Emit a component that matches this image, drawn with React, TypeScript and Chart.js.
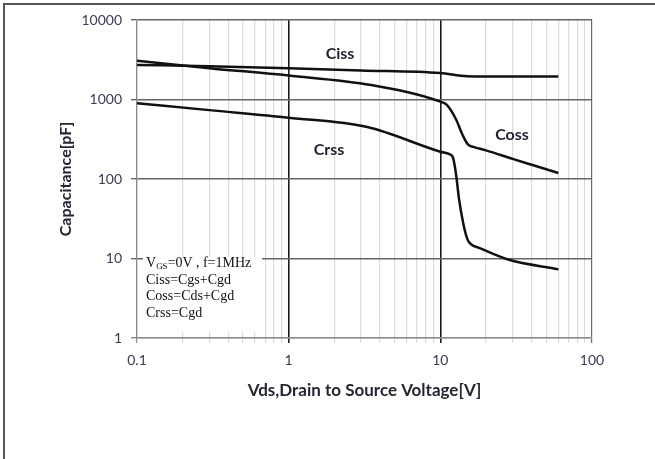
import React, { useEffect, useRef } from "react";
import { Chart, registerables } from "chart.js";

Chart.register(...registerables);

// ---- data ----
const cissV = [0.1, 0.3, 1, 3, 10, 15, 20, 60];
const cissPF = [2720, 2620, 2470, 2320, 2150, 1960, 1950, 1950];

const cossV = [0.1, 0.3, 1, 3.5, 10, 11, 12.7, 14, 15.2, 16.5, 20, 30, 40, 60];
const cossPF = [3080, 2480, 2000, 1520, 940, 860, 560, 360, 272, 254, 229, 179, 151, 119];

const crssV = [0.1, 0.3, 1, 3.3, 10, 11.5, 12.1, 12.7, 13.3, 14.2, 15.1, 16, 18, 28, 60];
const crssPF = [900, 735, 590, 450, 220, 205, 188, 114, 55, 27, 17.4, 15, 13.6, 9.7, 7.3];

const xTickValues = [
  0.1, 0.2, 0.3, 0.4, 0.5, 0.6, 0.7, 0.8, 0.9,
  1, 2, 3, 4, 5, 6, 7, 8, 9,
  10, 20, 30, 40, 50, 60, 70, 80, 90, 100,
];
const xLabelValues = [0.1, 1, 10, 100];
const yTickValues = [1, 10, 100, 1000, 10000];

const xTitle = "Vds,Drain to Source Voltage[V]";
const yTitle = "Capacitance[pF]";

const curveColor = "#111111";
const tickColor = "#3c3a58";

function toPoints(xs: number[], ys: number[]) {
  return xs.map((x, i) => ({ x, y: ys[i] }));
}

export default function App() {
  const ref = useRef<HTMLCanvasElement | null>(null);

  useEffect(() => {
    if (!ref.current) return;
    const ds = (label: string, xs: number[], ys: number[]) => ({
      label,
      data: toPoints(xs, ys),
      borderColor: curveColor,
      borderWidth: 2.5,
      pointRadius: 0,
      fill: false,
      cubicInterpolationMode: "monotone" as const,
    });
    const chart = new Chart(ref.current, {
      type: "line",
      data: {
        datasets: [
          ds("Ciss", cissV, cissPF),
          ds("Coss", cossV, cossPF),
          ds("Crss", crssV, crssPF),
        ],
      },
      options: {
        animation: false,
        responsive: true,
        maintainAspectRatio: false,
        layout: { padding: { top: 20, right: 63, left: 0, bottom: 0 } },
        plugins: { legend: { display: false }, tooltip: { enabled: false } },
        scales: {
          x: {
            type: "logarithmic",
            min: 0.1,
            max: 100,
            afterBuildTicks: (s: any) => {
              s.ticks = xTickValues.map((v) => ({ value: v }));
            },
            afterFit: (s: any) => {
              s.height = 121;
            },
            ticks: {
              autoSkip: false,
              maxRotation: 0,
              padding: 9,
              color: tickColor,
              font: { family: "Lato", size: 14 },
              callback: (v: any) =>
                xLabelValues.includes(Number(v)) ? String(v) : "",
            },
            grid: {
              tickLength: 5,
              color: (c: any) => {
                const v = c.tick?.value;
                if (v === 1 || v === 10) return "#1c1c1c";
                if (v === 100) return "#6a6a6a";
                if (v === 0.1) return "#8a8a8a";
                return "#dcdcdc";
              },
              lineWidth: (c: any) => {
                const v = c.tick?.value;
                return v === 1 || v === 10 ? 1.6 : 1.2;
              },
            },
            border: { color: "#8a8a8a", width: 1.2 },
            title: {
              display: true,
              text: xTitle,
              color: "#252535",
              font: { family: "Lato", size: 17, weight: "bold" },
              padding: { top: 0, bottom: 58 },
            },
          },
          y: {
            type: "logarithmic",
            min: 1,
            max: 10000,
            afterBuildTicks: (s: any) => {
              s.ticks = yTickValues.map((v) => ({ value: v }));
            },
            afterFit: (s: any) => {
              s.width = 137;
            },
            ticks: {
              autoSkip: false,
              padding: 9,
              color: tickColor,
              font: { family: "Lato", size: 14 },
              callback: (v: any) => String(v),
            },
            grid: {
              tickLength: 6,
              color: (c: any) => (c.tick?.value === 1 ? "#8a8a8a" : "#666666"),
              lineWidth: 1.4,
            },
            border: { color: "#8a8a8a", width: 1.2 },
            title: {
              display: true,
              text: yTitle,
              color: "#252535",
              font: { family: "Lato", size: 16, weight: "bold" },
              padding: { top: 56, bottom: 0 },
            },
          },
        },
      },
    });
    return () => chart.destroy();
  }, []);

  const seriesLabel: React.CSSProperties = {
    position: "absolute",
    font: 'bold 16px "Lato"',
    color: "#1e2233",
    transform: "translate(-50%, -50%)",
    whiteSpace: "nowrap",
  };

  return (
    <div
      style={{
        position: "fixed",
        left: 0,
        top: 0,
        width: 655,
        height: 459,
        background: "#fff",
        overflow: "hidden",
      }}
    >
      <div style={{ position: "absolute", left: 0, top: 0, width: 655, height: 459 }}>
        <canvas ref={ref} />
      </div>
      <div
        style={{
          position: "absolute",
          left: 3,
          top: 3,
          width: 660,
          height: 470,
          borderTop: "2px solid #555",
          borderLeft: "2px solid #555",
          pointerEvents: "none",
        }}
      />
      <div
        style={{
          position: "absolute",
          left: 143,
          top: 257,
          width: 119,
          height: 75,
          background: "#fff",
        }}
      />
      <div
        style={{
          position: "absolute",
          left: 146,
          top: 255,
          font: '14px "Liberation Serif"',
          lineHeight: "16.7px",
          color: "#111",
          whiteSpace: "nowrap",
        }}
      >
        <div>
          V<sub style={{ fontSize: 9, lineHeight: 0, verticalAlign: "-2px" }}>GS</sub>=0V , f=1MHz
        </div>
        <div>Ciss=Cgs+Cgd</div>
        <div>Coss=Cds+Cgd</div>
        <div>Crss=Cgd</div>
      </div>
      <div style={{ ...seriesLabel, left: 340, top: 52 }}>Ciss</div>
      <div style={{ ...seriesLabel, left: 512, top: 133 }}>Coss</div>
      <div style={{ ...seriesLabel, left: 329, top: 148 }}>Crss</div>
    </div>
  );
}
